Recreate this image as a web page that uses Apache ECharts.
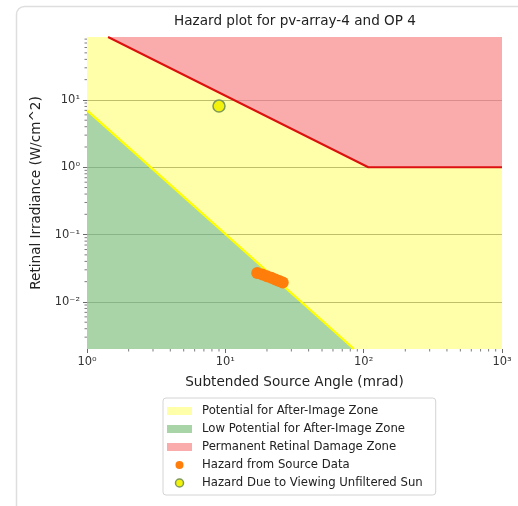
<!DOCTYPE html>
<html>
<head>
<meta charset="utf-8">
<script src="https://cdn.jsdelivr.net/npm/echarts@6.0.0/dist/echarts.min.js"></script>
<style>
html,body{margin:0;padding:0;background:#fff;}
#chart{width:518px;height:506px;}
</style>
</head>
<body>
<div id="chart"></div>
<script>
// ---- data ----
const X_MIN = 1, X_MAX = 1000;
const Y_MIN = 0.002, Y_MAX = 86;

const xTickValues = [1, 10, 100, 1000];
const xTickLabels = ['10⁰', '10¹', '10²', '10³'];
const yTickValues = [0.01, 0.1, 1, 10];
const yTickLabels = ['10⁻²', '10⁻¹', '10⁰', '10¹'];

const xMinorTicks = [2,3,4,5,6,7,8,9,20,30,40,50,60,70,80,90,200,300,400,500,600,700,800,900];
const yMinorTicks = [0.003,0.004,0.005,0.006,0.007,0.008,0.009,0.02,0.03,0.04,0.05,0.06,0.07,0.08,0.09,
                     0.2,0.3,0.4,0.5,0.6,0.7,0.8,0.9,2,3,4,5,6,7,8,9,20,30,40,50,60,70,80];

// zone boundaries [angle mrad, irradiance W/cm^2]
const potentialZone = [[1, 86], [1000, 86]];
const lowPotentialBoundary = [[1, 7.0], [85, 0.002]];
const retinalDamageBoundary = [[1.42, 86], [108, 1], [1000, 1]];

// hazard points
const sourceHazard = [[17, 0.027], [18.5, 0.0255], [20, 0.024], [21.5, 0.0228], [23, 0.0215], [24.5, 0.0205], [26, 0.0195]];
const sunHazard = [[9.0, 8.1]];

const names = [
  'Potential for After-Image Zone',
  'Low Potential for After-Image Zone',
  'Permanent Retinal Damage Zone',
  'Hazard from Source Data',
  'Hazard Due to Viewing Unfiltered Sun'
];

const FONT = 'DejaVu Sans';
const chart = echarts.init(document.getElementById('chart'), null, {renderer: 'canvas'});

function labelFor(values, labels) {
  return function (v) {
    for (let i = 0; i < values.length; i++) {
      if (Math.abs(Math.log10(v) - Math.log10(values[i])) < 1e-6) return labels[i];
    }
    return '';
  };
}

function minorTickSeries(data, isX) {
  return {
    type: 'custom',
    silent: true,
    z: 10,
    data: data.map(v => isX ? [v, Y_MIN] : [X_MIN, v]),
    encode: {x: 0, y: 1},
    renderItem: function (params, api) {
      const p = api.coord([api.value(0), api.value(1)]);
      return {
        type: 'line',
        shape: isX ? {x1: p[0], y1: p[1], x2: p[0], y2: p[1] + 2.5}
                   : {x1: p[0] - 2.5, y1: p[1], x2: p[0], y2: p[1]},
        style: {stroke: '#444', lineWidth: 0.7}
      };
    }
  };
}

const option = {
  animation: false,
  backgroundColor: '#fff',
  textStyle: {fontFamily: FONT},
  graphic: [
    {type: 'rect', left: 14, top: 4, shape: {width: 520, height: 520, r: 8},
     style: {fill: 'none', stroke: '#dedede', lineWidth: 1.5}, silent: true, z: -10},
    {type: 'text', x: 295, y: 14, style: {text: 'Hazard plot for pv-array-4 and OP 4', font: '13.6px "DejaVu Sans"',
     fill: '#222', textAlign: 'center', textVerticalAlign: 'top'}}
  ],
  grid: {left: 87, right: 16, top: 37, bottom: 157, containLabel: false},
  legend: {
    orient: 'vertical',
    left: 163, top: 398,
    padding: [6, 13, 5, 4],
    itemWidth: 25, itemHeight: 8, itemGap: 4,
    backgroundColor: '#fff',
    borderColor: '#d4d4d4', borderWidth: 1, borderRadius: 3,
    textStyle: {fontFamily: FONT, fontSize: 11.7, lineHeight: 14, color: '#222', padding: [0, 0, 0, 5]},
    data: [
      {name: names[0], icon: 'rect', itemStyle: {color: '#ffffaa', borderWidth: 0}},
      {name: names[1], icon: 'rect', itemStyle: {color: '#a8d4a8', borderWidth: 0}},
      {name: names[2], icon: 'rect', itemStyle: {color: '#faacac', borderWidth: 0}},
      {name: names[3], icon: 'circle', itemStyle: {color: '#ff7d0a', borderWidth: 0}},
      {name: names[4], icon: 'circle', itemStyle: {color: '#f2f20a', borderColor: '#7f9a55', borderWidth: 1.5}}
    ]
  },
  xAxis: {
    type: 'log', logBase: 10, min: X_MIN, max: X_MAX,
    name: 'Subtended Source Angle (mrad)', nameLocation: 'middle', nameGap: 26,
    nameTextStyle: {fontFamily: FONT, fontSize: 13.6, color: '#222'},
    axisLine: {show: false},
    axisTick: {show: true, length: 4, customValues: xTickValues, lineStyle: {color: '#444', width: 0.8}},
    axisLabel: {customValues: xTickValues, formatter: labelFor(xTickValues, xTickLabels), margin: 7,
      fontFamily: FONT, fontSize: 11.5, color: '#333'},
    splitLine: {show: false}
  },
  yAxis: {
    type: 'log', logBase: 10, min: Y_MIN, max: Y_MAX,
    name: 'Retinal Irradiance (W/cm^2)', nameLocation: 'middle', nameGap: 43,
    nameTextStyle: {fontFamily: FONT, fontSize: 13.6, color: '#222'},
    axisLine: {show: false},
    axisTick: {show: true, length: 4, customValues: yTickValues, lineStyle: {color: '#444', width: 0.8}},
    axisLabel: {customValues: yTickValues, formatter: labelFor(yTickValues, yTickLabels), margin: 7,
      fontFamily: FONT, fontSize: 11.5, color: '#333'},
    splitLine: {show: true, lineStyle: {color: '#a0a0a0', width: 1}}
  },
  series: [
    {
      name: names[0], type: 'line', data: potentialZone, symbol: 'none',
      lineStyle: {width: 0, color: '#ffff00'},
      itemStyle: {color: '#ffffaa'},
      areaStyle: {color: 'rgba(255,255,0,0.333)', origin: 'start', opacity: 1},
      z: 1
    },
    {
      name: names[1], type: 'line', data: lowPotentialBoundary, symbol: 'none',
      lineStyle: {width: 2.2, color: '#ffff00'},
      itemStyle: {color: '#a8d4a8'},
      areaStyle: {color: 'rgba(81,169,166,0.5)', origin: 'start', opacity: 1},
      z: 2
    },
    {
      name: names[2], type: 'line', data: retinalDamageBoundary, symbol: 'none',
      lineStyle: {width: 2, color: '#dc1010'},
      itemStyle: {color: '#faacac'},
      areaStyle: {color: 'rgba(245,89,174,0.5)', origin: 'end', opacity: 1},
      z: 3
    },
    {
      name: names[3], type: 'scatter', data: sourceHazard, symbol: 'circle', symbolSize: 12,
      itemStyle: {color: '#ff7d0a', opacity: 1}, z: 5
    },
    {
      name: names[4], type: 'scatter', data: sunHazard, symbol: 'circle', symbolSize: 12,
      itemStyle: {color: '#f2f20a', borderColor: '#7f9a55', borderWidth: 1.5, opacity: 1}, z: 6
    },
    minorTickSeries(xMinorTicks, true),
    minorTickSeries(yMinorTicks, false)
  ]
};
chart.setOption(option);
</script>
</body>
</html>
